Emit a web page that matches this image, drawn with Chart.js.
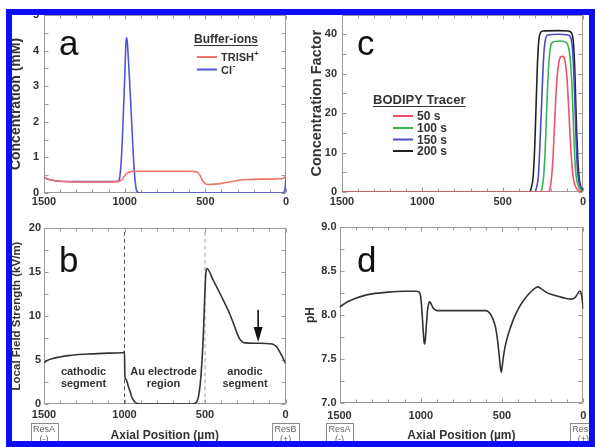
<!DOCTYPE html>
<html>
<head>
<meta charset="utf-8">
<script src="https://cdn.jsdelivr.net/npm/chart.js@4.4.1/dist/chart.umd.min.js"></script>
<style>
html,body{margin:0;padding:0;background:#fff;overflow:hidden;}
#wrap{position:relative;width:595px;height:447px;overflow:hidden;background:#fff;}
#wrap canvas{position:absolute;}
#frame{position:absolute;left:6px;top:9px;width:577px;height:426px;border:6px solid #0d0df5;pointer-events:none;}
</style>
</head>
<body>
<div id="wrap">
  <canvas id="cb" width="305" height="242" style="left:0;top:205px"></canvas>
  <canvas id="cd" width="300" height="242" style="left:295px;top:205px"></canvas>
  <canvas id="ca" width="300" height="205" style="left:0;top:0"></canvas>
  <canvas id="cc" width="300" height="205" style="left:295px;top:0"></canvas>
  <div id="frame"></div>
</div>
<script>
// ---------------- data ----------------
const xTicks  = [1500, 1000, 500, 0];
const yTicksA = [0, 1, 2, 3, 4, 5];
const yTicksB = [0, 5, 10, 15, 20];
const yTicksC = [0, 10, 20, 30, 40];
const yTicksD = [7.0, 7.5, 8.0, 8.5, 9.0];

// panel a : buffer ions (mM)
const trishPos  = [1500,1490,1470,1440,1400,1300,1100,1040,1020,1005,990,975,960,940,900,700,600,560,545,530,515,500,480,440,400,350,300,270,230,150,80,40,20,8,0];
const trishConc = [0.47,0.42,0.38,0.35,0.33,0.31,0.31,0.32,0.36,0.45,0.54,0.58,0.6,0.61,0.61,0.61,0.61,0.6,0.57,0.47,0.33,0.26,0.24,0.25,0.27,0.31,0.35,0.37,0.38,0.39,0.39,0.4,0.41,0.44,0.48];
const clPos     = [1500,1490,1470,1440,1400,1300,1100,1040,1030,1020,1010,1000,995,990,985,980,970,960,950,940,930,920,900,600,300,100,20,10,5,0];
const clConc    = [0.47,0.42,0.38,0.35,0.33,0.32,0.32,0.33,0.45,1.0,2.0,3.2,3.9,4.37,4.3,4.0,3.2,2.3,1.4,0.6,0.15,0.02,0,0,0,0,0,0.05,0.15,0.45];

// panel b : local field strength (kV/m)
const fieldPos = [1500,1480,1450,1400,1350,1300,1200,1100,1005,1000,998,990,976,965,955,945,934,920,905,700,580,565,550,540,530,520,510,502,495,488,450,400,350,320,300,285,270,250,200,150,100,75,55,35,20,10,0];
const fieldVal = [4.7,4.95,5.15,5.35,5.5,5.6,5.7,5.78,5.85,6.0,3.2,2.8,2.0,1.4,0.8,0.45,0.2,0.05,0,0,0,0.05,0.3,0.9,2.2,4.5,8.0,12.0,14.8,15.4,14.1,12.3,10.4,9.0,8.0,7.4,7.1,6.95,6.9,6.9,6.85,6.75,6.5,5.9,5.4,5.0,4.6];
const dividerPos = [1000, 500];
const arrowAt = [170];
const arrowSpan = [10.7, 7.05];

// panel c : BODIPY concentration factor
const tracerTimes = ['50 s', '100 s', '150 s', '200 s'];
const red50Pos    = [1500,215,205,195,185,175,165,152,138,125,112,100,90,80,70,60,45,25,0];
const red50Val    = [0,0,1,4,10,19,27,32.5,34.3,34.4,33.2,29,22,14,7.5,3.5,1.2,0.3,0];
const green100Pos = [1500,265,255,245,235,225,215,205,192,150,110,92,80,70,62,55,45,33,20,0];
const green100Val = [0,0,1,4,11,22,31,36,37.9,38.3,38,37,34,28,20,12,5,2,0.8,0.2];
const blue150Pos  = [1500,300,290,278,268,258,250,242,232,220,150,95,75,65,57,50,43,35,25,12,0];
const blue150Val  = [0,0,1,4,12,22,30,36,39,39.8,40,39.8,39,36,30,22,13,6,2.5,1,0.3];
const black200Pos = [1500,335,322,310,300,292,284,276,266,250,150,90,70,60,52,46,40,33,25,15,0];
const black200Val = [0,0,1,4,12,22,32,38,40.3,40.8,40.9,40.8,40.2,38,32,24,16,9,4,1.5,0.5];

// panel d : pH
const phPos = [1500,1450,1400,1350,1300,1200,1100,1030,1010,1000,993,986,980,976,972,965,958,950,944,935,920,900,700,600,575,555,540,528,518,510,505,500,492,480,460,430,400,370,330,300,280,260,230,190,150,110,75,50,35,25,18,10,5,0];
const phVal = [8.09,8.15,8.19,8.22,8.24,8.26,8.27,8.27,8.26,8.2,8.05,7.85,7.7,7.67,7.72,7.9,8.06,8.14,8.15,8.12,8.07,8.05,8.05,8.05,8.02,7.95,7.86,7.72,7.55,7.4,7.35,7.4,7.52,7.65,7.79,7.95,8.07,8.16,8.25,8.3,8.32,8.3,8.26,8.23,8.21,8.19,8.18,8.2,8.24,8.27,8.27,8.22,8.15,8.07];

// ---------------- helpers ----------------
const FONT = "'Liberation Sans', Arial, Helvetica, sans-serif";
const xy = (xs, ys) => xs.map((x, i) => ({x, y: ys[i]}));

const framePlugin = {
  id: 'frame',
  beforeDatasetsDraw(chart, args, o) {
    const {ctx, chartArea: a, scales: {x, y}} = chart;
    ctx.save();
    ctx.strokeStyle = '#9a9a9a';
    ctx.lineWidth = 1;
    const L = Math.round(a.left) + 0.5, R = Math.round(a.right) - 0.5;
    const T = Math.round(a.top) + 0.5, B = Math.round(a.bottom) - 0.5;
    ctx.strokeRect(L, T, R - L, B - T);
    ctx.beginPath();
    for (let v = x.min; v <= x.max + 1e-6; v += o.minorX) {
      const px = Math.round(x.getPixelForValue(v)) + 0.5;
      const len = Math.abs(v % o.majorX) < 1e-6 ? 4 : 3;
      ctx.moveTo(px, B); ctx.lineTo(px, B - len);
      ctx.moveTo(px, T); ctx.lineTo(px, T + len);
    }
    const n = Math.round((y.max - y.min) / o.minorY);
    for (let i = 0; i <= n; i++) {
      const v = y.min + i * o.minorY;
      const py = Math.round(y.getPixelForValue(v)) + 0.5;
      ctx.moveTo(L, py); ctx.lineTo(L + 4, py);
      ctx.moveTo(R, py); ctx.lineTo(R - 4, py);
    }
    ctx.stroke();
    ctx.restore();
  }
};

function text(ctx, s, x, y, size, opt = {}) {
  ctx.font = (opt.weight || 'bold') + ' ' + size + 'px ' + FONT;
  ctx.fillStyle = opt.color || '#333';
  ctx.textAlign = opt.align || 'left';
  ctx.textBaseline = 'alphabetic';
  ctx.fillText(s, x, y);
  return ctx.measureText(s).width;
}
function seg(ctx, x1, y1, x2, y2, color, w) {
  ctx.strokeStyle = color; ctx.lineWidth = w;
  ctx.beginPath(); ctx.moveTo(x1, y1); ctx.lineTo(x2, y2); ctx.stroke();
}
function resBoxes(chart, topY) {
  const {ctx, scales: {x}} = chart;
  [[1500, 'ResA', '(-)'], [0, 'ResB', '(+)']].forEach(([v, a, b]) => {
    const cx = x.getPixelForValue(v);
    ctx.strokeStyle = '#8a8a8a'; ctx.lineWidth = 1;
    ctx.strokeRect(Math.round(cx - 13.5) + 0.5, topY + 0.5, 27, 30);
    text(ctx, a, cx, topY + 9, 9, {weight: 'normal', color: '#666', align: 'center'});
    text(ctx, b, cx, topY + 19, 9, {weight: 'normal', color: '#666', align: 'center'});
  });
}

function options(p) {
  return {
    responsive: false, animation: false, devicePixelRatio: 1,
    layout: {padding: p.pad},
    plugins: {legend: {display: false}, tooltip: {enabled: false},
              frame: {minorX: 100, majorX: 500, minorY: p.minorY}},
    elements: {point: {radius: 0}, line: {borderWidth: 1.6, cubicInterpolationMode: 'monotone'}},
    scales: {
      x: {
        type: 'linear', reverse: true, min: 0, max: 1500,
        grid: {display: false, drawTicks: false}, border: {display: false},
        afterBuildTicks: s => { s.ticks = xTicks.map(v => ({value: v})); },
        afterFit: s => { s.height = p.xH; },
        ticks: {padding: p.xPad, color: '#333', autoSkip: false, maxRotation: 0,
                font: {family: FONT, size: 11, weight: 'bold'}, callback: v => String(v)},
        title: p.xTitle ? {display: true, text: p.xTitle, color: '#333',
                font: {family: FONT, size: 12, weight: 'bold'}, padding: {top: 0, bottom: 4}} : {display: false}
      },
      y: {
        type: 'linear', min: p.yTicks[0], max: p.yMax,
        grid: {display: false, drawTicks: false}, border: {display: false},
        afterBuildTicks: s => { s.ticks = p.yTicks.map(v => ({value: v})); },
        afterFit: s => { s.width = p.yW; },
        ticks: {padding: p.yPad, color: '#333', autoSkip: false,
                font: {family: FONT, size: 11, weight: 'bold'}, callback: p.yFmt},
        title: {display: true, text: p.yTitle, color: '#333',
                font: {family: FONT, size: p.yTitleSize, weight: 'bold'}, padding: {top: p.yTitlePad, bottom: 0}}
      }
    }
  };
}

// ---------------- panel a ----------------
new Chart(document.getElementById('ca'), {
  type: 'line',
  data: {datasets: [
    {data: xy(trishPos, trishConc), borderColor: '#f07468', borderWidth: 1.6},
    {data: xy(clPos, clConc), borderColor: '#5454d6', borderWidth: 1.6}
  ]},
  options: options({pad: {left: 0, top: 15, right: 14, bottom: 0}, xH: 12, xPad: 2.5,
    yW: 44, yTicks: yTicksA, yMax: 5, yPad: 5, minorY: 0.5, yFmt: v => String(v),
    yTitle: 'Concentration (mM)', yTitleSize: 14, yTitlePad: 8}),
  plugins: [framePlugin, {id: 'annoA', afterDraw(chart) {
    const ctx = chart.ctx;
    ctx.save();
    text(ctx, 'a', 59, 55, 35, {weight: 'normal', color: '#111'});
    const w = text(ctx, 'Buffer-ions', 194, 43, 12);
    seg(ctx, 194, 45.5, 194 + w, 45.5, '#333', 1);
    seg(ctx, 197, 57, 217, 57, '#f07468', 2);
    const w1 = text(ctx, 'TRISH', 221, 61, 11);
    text(ctx, '+', 221 + w1, 56, 8);
    seg(ctx, 197, 69.5, 217, 69.5, '#5454d6', 2);
    const w2 = text(ctx, 'Cl', 221, 73.5, 11);
    text(ctx, '-', 221 + w2 + 0.5, 68.5, 9);
    ctx.restore();
  }}]
});

// ---------------- panel c ----------------
const tracerColors = ['#f0506a', '#34b456', '#4a4ac4', '#222222'];
new Chart(document.getElementById('cc'), {
  type: 'line',
  data: {datasets: [
    {label: tracerTimes[0], data: xy(red50Pos, red50Val), borderColor: tracerColors[0]},
    {label: tracerTimes[1], data: xy(green100Pos, green100Val), borderColor: tracerColors[1]},
    {label: tracerTimes[2], data: xy(blue150Pos, blue150Val), borderColor: tracerColors[2]},
    {label: tracerTimes[3], data: xy(black200Pos, black200Val), borderColor: tracerColors[3]}
  ]},
  options: options({pad: {left: 0, top: 14.5, right: 12, bottom: 0}, xH: 13, xPad: 3,
    yW: 47, yTicks: yTicksC, yMax: 45, yPad: 5, minorY: 5, yFmt: v => String(v),
    yTitle: 'Concentration Factor', yTitleSize: 14.5, yTitlePad: 13}),
  plugins: [framePlugin, {id: 'annoC', afterDraw(chart) {
    const ctx = chart.ctx;
    ctx.save();
    text(ctx, 'c', 62, 55, 35, {weight: 'normal', color: '#111'});
    const w = text(ctx, 'BODIPY Tracer', 78, 104, 13);
    seg(ctx, 78, 106.5, 78 + w, 106.5, '#333', 1);
    const ys = [116, 128, 139.5, 151];
    chart.data.datasets.forEach((d, i) => {
      seg(ctx, 98, ys[i], 118, ys[i], d.borderColor, 2);
      text(ctx, d.label, 122, ys[i] + 4, 12);
    });
    ctx.restore();
  }}]
});

// ---------------- panel b ----------------
new Chart(document.getElementById('cb'), {
  type: 'line',
  data: {datasets: [
    {data: xy(fieldPos, fieldVal), borderColor: '#333'},
    {data: [{x: dividerPos[0], y: 0}, {x: dividerPos[0], y: 20}], borderColor: '#555', borderWidth: 1, borderDash: [4, 3]},
    {data: [{x: dividerPos[1], y: 0}, {x: dividerPos[1], y: 20}], borderColor: '#a0a0a0', borderWidth: 1, borderDash: [4, 3]}
  ]},
  options: options({pad: {left: 0, top: 23, right: 19.5, bottom: 0}, xH: 43, xPad: 4.5, xTitle: 'Axial Position (\u00b5m)',
    yW: 44, yTicks: yTicksB, yMax: 20, yPad: 3, minorY: 2.5, yFmt: v => String(v),
    yTitle: 'Local Field Strength (kV/m)', yTitleSize: 11.5, yTitlePad: 10}),
  plugins: [framePlugin, {id: 'annoB', afterDraw(chart) {
    const {ctx, scales: {x, y}} = chart;
    ctx.save();
    text(ctx, 'b', 59, 67, 35, {weight: 'normal', color: '#111'});
    text(ctx, 'cathodic', 83.5, 170, 11, {align: 'center'});
    text(ctx, 'segment', 83.5, 182, 11, {align: 'center'});
    text(ctx, 'Au electrode', 163.5, 170, 11, {align: 'center'});
    text(ctx, 'region', 163.5, 182, 11, {align: 'center'});
    text(ctx, 'anodic', 245, 170, 11, {align: 'center'});
    text(ctx, 'segment', 245, 182, 11, {align: 'center'});
    // arrow
    const ax = x.getPixelForValue(arrowAt[0]);
    const y0 = y.getPixelForValue(arrowSpan[0]), y1 = y.getPixelForValue(arrowSpan[1]);
    seg(ctx, ax, y0, ax, y1 - 12, '#111', 1.6);
    ctx.fillStyle = '#111';
    ctx.beginPath(); ctx.moveTo(ax - 4.5, y1 - 15); ctx.lineTo(ax + 4.5, y1 - 15); ctx.lineTo(ax, y1); ctx.closePath(); ctx.fill();
    resBoxes(chart, 218);
    ctx.restore();
  }}]
});

// ---------------- panel d ----------------
new Chart(document.getElementById('cd'), {
  type: 'line',
  data: {datasets: [{data: xy(phPos, phVal), borderColor: '#333'}]},
  options: options({pad: {left: 0, top: 22, right: 11.7, bottom: 0}, xH: 44, xPad: 6.5, xTitle: 'Axial Position (\u00b5m)',
    yW: 44.5, yTicks: yTicksD, yMax: 9, yPad: 3, minorY: 0.25, yFmt: v => v.toFixed(1),
    yTitle: 'pH', yTitleSize: 12, yTitlePad: 8}),
  plugins: [framePlugin, {id: 'annoD', afterDraw(chart) {
    const ctx = chart.ctx;
    ctx.save();
    text(ctx, 'd', 62, 67, 35, {weight: 'normal', color: '#111'});
    resBoxes(chart, 218);
    ctx.restore();
  }}]
});
</script>
</body>
</html>
